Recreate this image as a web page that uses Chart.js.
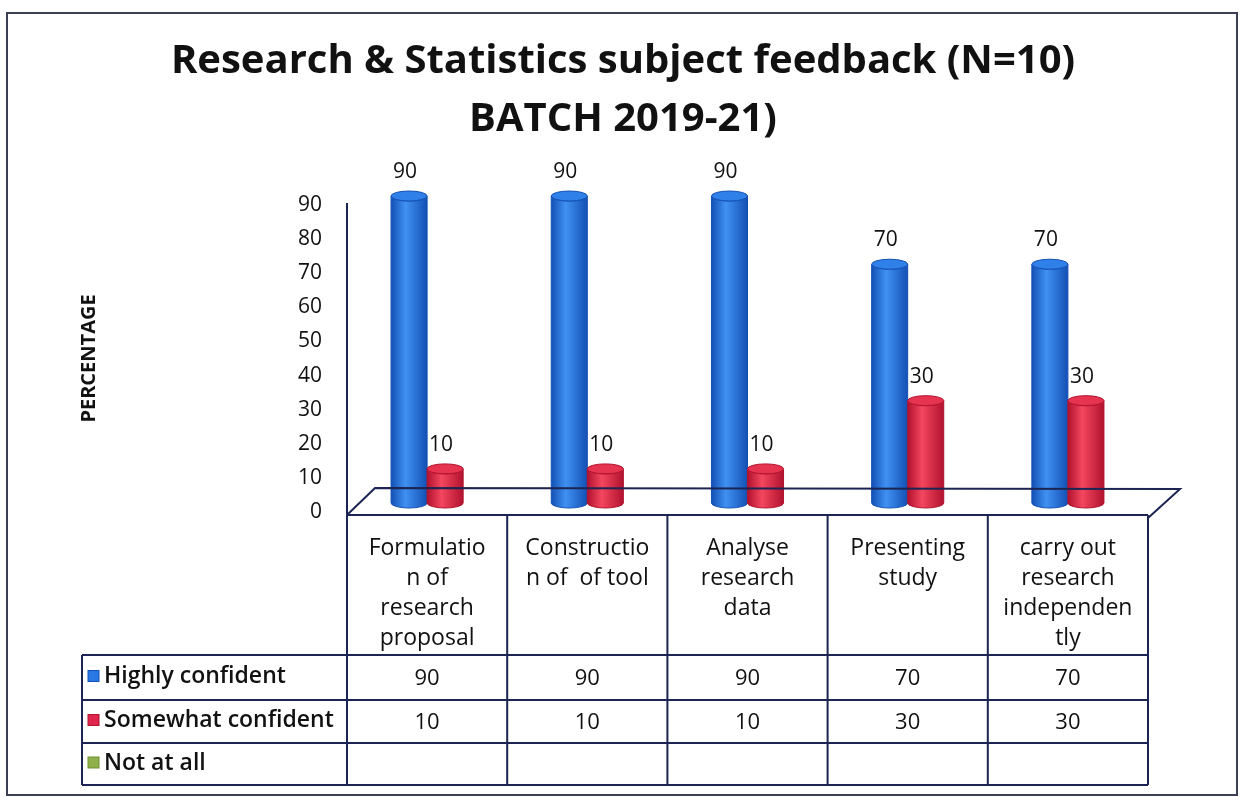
<!DOCTYPE html>
<html lang="en">
<head>
    <meta charset="UTF-8">
    <title>Research &amp; Statistics subject feedback</title>
    <script src="https://cdn.jsdelivr.net/npm/chart.js"></script>
    <style>
        html, body { margin: 0; padding: 0; background: #ffffff; }
        canvas { display: block; }
    </style>
</head>
<body>
    <canvas id="feedbackChart" width="1246" height="801"></canvas>

    <script>
        // Category labels, already broken into the lines shown in the table
        const categories = [
            ["Formulatio", "n of", "research", "proposal"],
            ["Constructio", "n of  of tool"],
            ["Analyse", "research", "data"],
            ["Presenting", "study"],
            ["carry out", "research", "independen", "tly"]
        ];
        const highlyConfident = [90, 90, 90, 70, 70];
        const somewhatConfident = [10, 10, 10, 30, 30];
        const notAtAll = [null, null, null, null, null];
        const yMax = 90;
        const yStep = 10;

        const LINE = "#1b2452";
        const FONT = "'Open Sans', 'DejaVu Sans', sans-serif";
        const DEPTH_Y = -9;   // cylinders sit a little behind the front plane

        const palettes = [
            { dark: "#1450b4", light: "#3f91f2", top: "#2f80e8", key: "#2a78e4" },
            { dark: "#b1122e", light: "#f4465f", top: "#e6334f", key: "#e0264c" },
            { dark: "#6f8f34", light: "#a8c763", top: "#93b450", key: "#8fb04a" }
        ];

        function drawCylinder(ctx, cx, top, bottom, w, c) {
            const rx = w / 2, ry = 5;
            const grad = ctx.createLinearGradient(cx - rx, 0, cx + rx, 0);
            grad.addColorStop(0, c.dark);
            grad.addColorStop(0.4, c.light);
            grad.addColorStop(1, c.dark);
            ctx.beginPath();
            ctx.moveTo(cx - rx, top);
            ctx.lineTo(cx - rx, bottom);
            ctx.ellipse(cx, bottom, rx, ry, 0, Math.PI, 0, true);
            ctx.lineTo(cx + rx, top);
            ctx.ellipse(cx, top, rx, ry, 0, 0, Math.PI, false);
            ctx.closePath();
            ctx.fillStyle = grad;
            ctx.fill();
            ctx.lineWidth = 1;
            ctx.strokeStyle = c.dark;
            ctx.stroke();

            ctx.beginPath();
            ctx.ellipse(cx, top, rx, ry, 0, 0, Math.PI * 2);
            ctx.fillStyle = c.top;
            ctx.fill();
            ctx.strokeStyle = c.dark;
            ctx.stroke();
        }

        // Frame around the whole figure
        const frame = {
            id: "frame",
            beforeDraw(chart) {
                const ctx = chart.ctx;
                ctx.save();
                ctx.fillStyle = "#ffffff";
                ctx.fillRect(0, 0, chart.width, chart.height);
                ctx.strokeStyle = "#3a3f55";
                ctx.lineWidth = 2;
                ctx.strokeRect(7, 13, 1230, 782);
                ctx.restore();
            }
        };

        // 3D cylinders and their value labels, placed from each bar element
        const cylinders = {
            id: "cylinders",
            afterDatasetsDraw(chart) {
                const ctx = chart.ctx;
                ctx.save();
                chart.data.datasets.forEach((ds, di) => {
                    const meta = chart.getDatasetMeta(di);
                    meta.data.forEach((bar, i) => {
                        const v = ds.data[i];
                        if (v == null) return;
                        const p = bar.getProps(["x", "y", "base", "width"], true);
                        drawCylinder(ctx, p.x, p.y + DEPTH_Y, p.base + DEPTH_Y, p.width, palettes[di]);
                        ctx.fillStyle = "#111111";
                        ctx.font = "21px " + FONT;
                        ctx.textAlign = "center";
                        ctx.textBaseline = "middle";
                        ctx.fillText(String(v), p.x - 4, p.y + DEPTH_Y - 24);
                    });
                });
                ctx.restore();
            }
        };

        // Floor and data table under the plot
        const dataTable = {
            id: "dataTable",
            afterDraw(chart) {
                const ctx = chart.ctx;
                const area = chart.chartArea;
                const xs = chart.scales.x;
                const n = categories.length;
                const colW = xs.width / n;
                const top = area.bottom + 3;
                const rows = [top, top + 140, top + 185, top + 228, top + 270];
                const legendLeft = 82;

                ctx.save();
                ctx.strokeStyle = LINE;
                ctx.lineWidth = 2;

                // floor
                ctx.beginPath();
                ctx.moveTo(area.left, top);
                ctx.lineTo(area.left + 28, top - 27);
                ctx.lineTo(area.right + 32, top - 26);
                ctx.lineTo(area.right, top + 3);
                ctx.stroke();

                // value axis continues down into the table
                ctx.beginPath();
                ctx.moveTo(area.left, area.top - 2);
                ctx.lineTo(area.left, rows[4]);
                ctx.stroke();

                // horizontal rules
                ctx.beginPath();
                ctx.moveTo(area.left, top);
                ctx.lineTo(area.right, top);
                for (let r = 1; r < rows.length; r++) {
                    ctx.moveTo(legendLeft, rows[r]);
                    ctx.lineTo(area.right, rows[r]);
                }
                // verticals
                ctx.moveTo(legendLeft, rows[1]);
                ctx.lineTo(legendLeft, rows[4]);
                for (let i = 1; i <= n; i++) {
                    const x = xs.left + i * colW;
                    ctx.moveTo(x, top);
                    ctx.lineTo(x, rows[4]);
                }
                ctx.stroke();

                ctx.fillStyle = "#111111";
                ctx.font = "23px " + FONT;
                ctx.textAlign = "center";
                ctx.textBaseline = "middle";

                // category labels
                categories.forEach((lines, i) => {
                    const cx = xs.getPixelForValue(i);
                    lines.forEach((t, li) => ctx.fillText(t, cx, top + 33 + li * 30));
                });

                // series rows: legend key + values
                chart.data.datasets.forEach((ds, di) => {
                    const cy = (rows[di + 1] + rows[di + 2]) / 2;
                    ctx.font = "22px " + FONT;
                    ds.data.forEach((v, i) => {
                        if (v == null) return;
                        ctx.textAlign = "center";
                        ctx.fillText(String(v), xs.getPixelForValue(i), cy + 1);
                    });
                    ctx.fillStyle = palettes[di].key;
                    ctx.fillRect(88, cy - 7, 11, 11);
                    ctx.lineWidth = 1;
                    ctx.strokeStyle = palettes[di].dark;
                    ctx.strokeRect(88, cy - 7, 11, 11);
                    ctx.fillStyle = "#111111";
                    ctx.textAlign = "left";
                    ctx.font = "600 23px " + FONT;
                    ctx.fillText(ds.label, 104, cy - 1);
                });
                ctx.restore();
            }
        };

        const ctx = document.getElementById("feedbackChart").getContext("2d");
        new Chart(ctx, {
            type: "bar",
            data: {
                labels: categories,
                datasets: [
                    { label: "Highly confident", data: highlyConfident, backgroundColor: "transparent" },
                    { label: "Somewhat confident", data: somewhatConfident, backgroundColor: "transparent" },
                    { label: "Not at all", data: notAtAll, backgroundColor: "transparent" }
                ]
            },
            options: {
                responsive: false,
                animation: false,
                skipNull: true,
                categoryPercentage: 0.45,
                barPercentage: 1.0,
                layout: { padding: { left: 0, right: 0, top: 0, bottom: 289 } },
                plugins: {
                    legend: { display: false },
                    tooltip: { enabled: false },
                    title: {
                        display: true,
                        text: ["Research & Statistics subject feedback (N=10)", "BATCH 2019-21)"],
                        color: "#111111",
                        font: { family: FONT, size: 40, weight: "bold", lineHeight: 1.45 },
                        padding: { top: 33, bottom: 56 }
                    }
                },
                scales: {
                    x: { display: false },
                    y: {
                        min: 0,
                        max: yMax,
                        ticks: { stepSize: yStep, padding: 25, color: "#111111", font: { family: FONT, size: 21 } },
                        grid: { display: false, drawTicks: false },
                        border: { display: true, color: LINE, width: 2 },
                        title: {
                            display: true,
                            text: "PERCENTAGE",
                            color: "#111111",
                            padding: { top: 77, bottom: 0 },
                            font: { family: FONT, size: 20, weight: "bold" }
                        },
                        afterFit(scale) { scale.width = 347; }
                    },
                    // empty right-hand axis keeps the plot clear of the right edge
                    yRight: {
                        position: "right",
                        display: true,
                        ticks: { display: false },
                        grid: { display: false, drawTicks: false },
                        border: { display: false },
                        afterFit(scale) { scale.width = 98; }
                    }
                }
            },
            plugins: [frame, cylinders, dataTable]
        });
    </script>
</body>
</html>
